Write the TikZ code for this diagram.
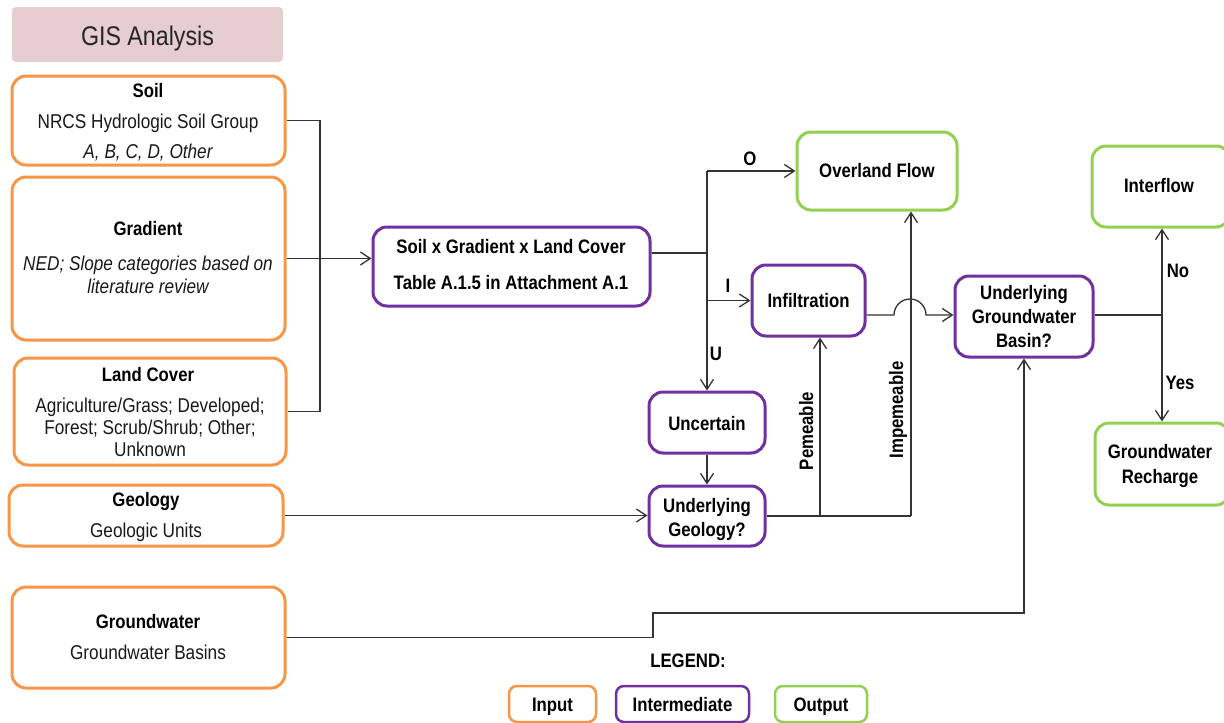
\documentclass[tikz,border=0pt]{standalone}
\usepackage{fontspec}
\setmainfont{Liberation Sans}[FakeStretch=0.86]
\usetikzlibrary{arrows.meta,fit}
\definecolor{cin}{HTML}{F79646}
\definecolor{cmid}{HTML}{7030A0}
\definecolor{cout}{HTML}{92D050}
\definecolor{cgis}{HTML}{E6CDD0}
\begin{document}
\begin{tikzpicture}[x=1pt,y=-1pt,
  box/.style={draw,line width=3pt,rounded corners=14pt,inner sep=0pt,fill=white},
  inbox/.style={box,draw=cin},
  midbox/.style={box,draw=cmid},
  outbox/.style={box,draw=cout},
  tr/.style={inner sep=0pt,text height=14.5pt,text depth=0pt,text=black!90,font=\fontsize{20}{23}\selectfont},
  ti/.style={tr,font=\fontsize{20}{23}\selectfont\itshape},
  tb/.style={inner sep=0pt,text height=14pt,text depth=0pt,text=black,font=\fontsize{19.5}{22}\selectfont\bfseries},
  conn/.style={line width=1.3pt,draw=black!80},
  arr/.style={conn,-{Straight Barb[length=10pt,width=13pt,line width=1.3pt]}}
]
\useasboundingbox (0,0) rectangle (1224,723);
% title
\node[fill=cgis,rounded corners=4pt,inner sep=0pt,fit={(12,7)(283,62)}] (gis) {};
\node[inner sep=0pt,text height=19.5pt,text depth=0pt,text=black!85,font=\fontsize{27}{30}\selectfont] (gisT) at (147.5,36) {GIS Analysis};
% input boxes
\node[inbox,fit={(12,76)(285,165)}] (soil) {};
\node[tb] (soilT) at (148,90) {Soil};
\node[tr] (soilA) at (148,121) {NRCS Hydrologic Soil Group};
\node[ti] (soilB) at (148,151) {A, B, C, D, Other};
\node[inbox,fit={(12,177)(285,340)}] (grad) {};
\node[tb] (gradT) at (148,228) {Gradient};
\node[ti] (gradA) at (148,263) {NED; Slope categories based on};
\node[ti] (gradB) at (148,286) {literature review};
\node[inbox,fit={(14,358)(286,465)}] (land) {};
\node[tb] (landT) at (148,374) {Land Cover};
\node[tr] (landA) at (150,405) {Agriculture/Grass; Developed;};
\node[tr] (landB) at (150,427) {Forest; Scrub/Shrub; Other;};
\node[tr] (landC) at (150,449) {Unknown};
\node[inbox,fit={(9,485)(283,546)}] (geo) {};
\node[tb] (geoT) at (146,499) {Geology};
\node[tr] (geoA) at (146,530) {Geologic Units};
\node[inbox,fit={(12,587)(285,688)}] (gw) {};
\node[tb] (gwT) at (148,621) {Groundwater};
\node[tr] (gwA) at (148,652) {Groundwater Basins};
% intermediate
\node[midbox,fit={(373,227)(650,306)}] (sxg) {};
\node[tb] (sxgA) at (511,246) {Soil x Gradient x Land Cover};
\node[tb] (sxgB) at (511,282) {Table A.1.5 in Attachment A.1};
\node[midbox,fit={(752,265)(865,336)}] (infil) {};
\node[tb] (infilT) at (808.5,300) {Infiltration};
\node[midbox,fit={(649,392)(765,453)}] (unc) {};
\node[tb] (uncT) at (707,423) {Uncertain};
\node[midbox,fit={(649,486)(765,546)}] (ugeo) {};
\node[tb] (ugeoA) at (707,505) {Underlying};
\node[tb] (ugeoB) at (707,529) {Geology?};
\node[midbox,fit={(955,276)(1093,357)}] (ugb) {};
\node[tb] (ugbA) at (1024,292) {Underlying};
\node[tb] (ugbB) at (1024,316) {Groundwater};
\node[tb] (ugbC) at (1024,340) {Basin?};
% outputs
\node[outbox,fit={(797,132)(957,210)}] (over) {};
\node[tb] (overT) at (877,170) {Overland Flow};
\node[outbox,fit={(1092,146)(1230,227)}] (inter) {};
\node[tb] (interT) at (1159,185) {Interflow};
\node[outbox,fit={(1095,423)(1230,505)}] (gwr) {};
\node[tb] (gwrA) at (1160,451) {Groundwater};
\node[tb] (gwrB) at (1160,476) {Recharge};
% connectors: inputs to sxg
\coordinate (bus) at (320,258);
\draw[conn] (soil.east) -| (bus);
\draw[conn] (land.east) -| (bus);
\draw[arr] (grad.east) -- (grad.east -| sxg.west);
% sxg split
\coordinate (j1) at (707,253);
\coordinate (jO) at (707,171);
\draw[conn] (sxg.east |- j1) -- (j1);
\draw[arr] (jO) -- (over.west);
\draw[arr] (jO) -- (unc.north);
\draw[arr] (jO |- infil.west) -- (infil.west);
\node[tb] (lO) at (750,158) {O};
\node[tb] (lI) at (728,285) {I};
\node[tb] (lU) at (716,353) {U};
% uncertain / geology
\draw[arr] (unc.south) -- (ugeo.north);
\draw[arr] (geo.east) -- (geo.east -| ugeo.west);
\coordinate (p1) at (820,516);
\coordinate (p2) at (911,516);
\draw[conn] (ugeo.east) -- (p2);
\draw[arr] (p1) -- (p1 |- infil.south);
\draw[arr] (p2) -- (p2 |- over.south);
\node[tb,rotate=90] (lP) at (806,431) {Pemeable};
\node[tb,rotate=90] (lImp) at (896,410) {Impemeable};
% infiltration to ugb with jump
\coordinate (jm) at (894,315);
\draw[arr] (infil.east |- jm) -- (jm) arc[start angle=180,end angle=360,radius=16] -- (ugb.west |- jm);
% ugb split
\coordinate (j3) at (1162,315);
\draw[conn] (ugb.east |- j3) -- (j3);
\draw[arr] (j3) -- (j3 |- inter.south);
\draw[arr] (j3) -- (j3 |- gwr.north);
\node[tb] (lNo) at (1178,270) {No};
\node[tb] (lYes) at (1180,382) {Yes};
% groundwater
\coordinate (k1) at (653,613);
\draw[arr] (gw.east) -| (k1) -| (ugb.south);
% legend
\node[tb] (legT) at (688,660) {LEGEND:};
\node[inbox,line width=2.5pt,rounded corners=8pt,fit={(509,686)(596,722)}] (legI) {};
\node[tb] (legIT) at (552.5,704) {Input};
\node[midbox,line width=2.5pt,rounded corners=8pt,fit={(616,686)(749,722)}] (legM) {};
\node[tb] (legMT) at (682.5,704) {Intermediate};
\node[outbox,line width=2.5pt,rounded corners=8pt,fit={(775,686)(867,722)}] (legO) {};
\node[tb] (legOT) at (821,704) {Output};
\end{tikzpicture}
\end{document}
